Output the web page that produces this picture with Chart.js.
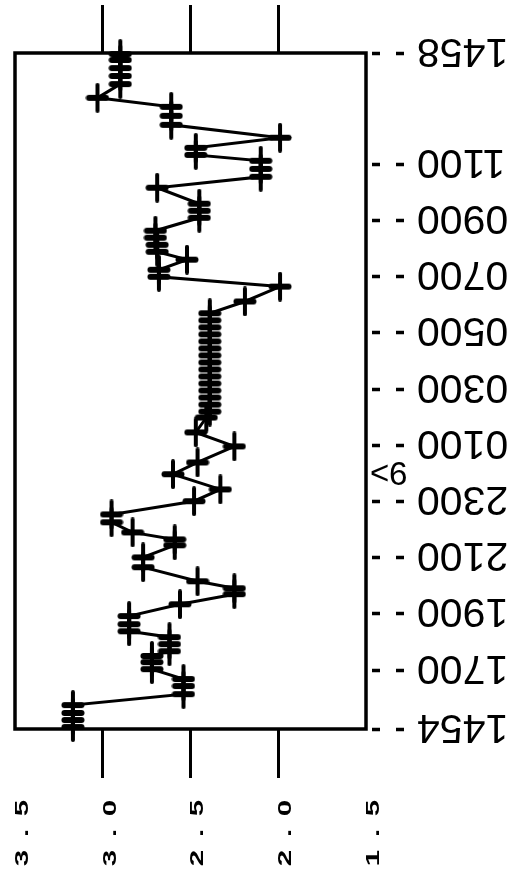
<!DOCTYPE html>
<html lang="en">
  <head>
    <meta charset="UTF-8" />
    <meta name="viewport" content="width=device-width, initial-scale=1.0" />
    <title>Readings 1454 - 1458</title>
    <script src="https://cdn.jsdelivr.net/npm/chart.js"></script>
    <style>
      html,
      body {
        margin: 0;
        padding: 0;
        background: #fff;
      }
    </style>
  </head>

  <body>
    <canvas id="myChart" width="529" height="876"></canvas>
  </body>
</html>

<script>
  // clock time of each reading, in hours from midnight of the first day (goes past 24 next day)
  var hours = [
    14.97, 15.22, 15.47, 15.75, 16.14, 16.43, 16.68, 17.03, 17.28, 17.5,
    17.67, 17.92, 18.17, 18.38, 18.63, 18.92, 19.34, 19.7, 19.91, 20.16,
    20.66, 21.01, 21.44, 21.65, 21.9, 22.26, 22.54, 23.01, 23.43, 23.97,
    24.39, 24.96, 25.46, 25.99, 26.2, 26.45, 26.7, 26.95, 27.2, 27.45,
    27.7, 27.95, 28.2, 28.45, 28.7, 28.95, 29.2, 29.45, 29.7, 30.12,
    30.65, 31.0, 31.25, 31.61, 31.89, 32.14, 32.39, 32.64, 33.1, 33.35,
    33.6, 34.17, 34.56, 34.84, 35.13, 35.34, 35.59, 35.95, 36.41, 36.73,
    37.05, 37.37, 37.86, 38.15, 38.43, 38.72, 38.93,
  ];
  var values = [
    3.17, 3.17, 3.17, 3.17, 2.54, 2.54, 2.54, 2.72, 2.72, 2.72,
    2.62, 2.62, 2.62, 2.85, 2.85, 2.85, 2.56, 2.25, 2.25, 2.46,
    2.77, 2.77, 2.59, 2.59, 2.83, 2.95, 2.95, 2.48, 2.33, 2.6,
    2.46, 2.25, 2.47, 2.41, 2.39, 2.39, 2.39, 2.39, 2.39, 2.39,
    2.39, 2.39, 2.39, 2.39, 2.39, 2.39, 2.39, 2.39, 2.39, 2.19,
    1.99, 2.68, 2.68, 2.52, 2.69, 2.69, 2.7, 2.7, 2.45, 2.45,
    2.45, 2.69, 2.1, 2.1, 2.1, 2.47, 2.47, 1.99, 2.61, 2.61,
    2.61, 3.03, 2.9, 2.9, 2.9, 2.9, 2.9,
  ];

  // value axis (drawn left to right, high to low)
  var valueTicks = [3.5, 3.0, 2.5, 2.0, 1.5];
  var valueTickLabels = ["3.5", "3.0", "2.5", "2.0", "1.5"];

  // time axis (bottom to top)
  var timeTicks = [14.9, 17, 19, 21, 23, 25, 27, 29, 31, 33, 35, 38.967];
  var timeTickLabels = [
    "1454", "1700", "1900", "2100", "2300", "0100",
    "0300", "0500", "0700", "0900", "1100", "1458",
  ];

  // day change marker at midnight
  var dayMarkHour = 24;
  var dayMarkText = "9>";

  var points = [];
  for (var i = 0; i < hours.length; i++) {
    points.push({ x: values[i], y: hours[i] });
  }

  // plus marker, taller than wide like in the scanned plot
  function makeMarker() {
    var c = document.createElement("canvas");
    c.width = 24;
    c.height = 30;
    var g = c.getContext("2d");
    g.strokeStyle = "#000";
    g.lineCap = "round";
    g.lineWidth = 6;
    g.beginPath();
    g.moveTo(3.5, 15);
    g.lineTo(20.5, 15);
    g.stroke();
    g.lineWidth = 4;
    g.beginPath();
    g.moveTo(12, 2);
    g.lineTo(12, 28);
    g.stroke();
    return c;
  }

  // hide the tick lines at the two ends of the value axis
  function valueTickColor(ctx) {
    if (!ctx.tick) return "#000";
    var v = ctx.tick.value;
    return v === 3.5 || v === 1.5 ? "rgba(0,0,0,0)" : "#000";
  }

  // frame and rotated labels
  var labelsPlugin = {
    id: "labels",
    beforeDatasetsDraw: function (chart) {
      var ctx = chart.ctx;
      var a = chart.chartArea;
      ctx.save();
      ctx.strokeStyle = "#000";
      ctx.lineWidth = 3.5;
      ctx.strokeRect(a.left, a.top, a.right - a.left, a.bottom - a.top);
      ctx.restore();
    },
    afterDraw: function (chart) {
      var ctx = chart.ctx;
      var xs = chart.scales.x;
      var ys = chart.scales.y;
      ctx.save();
      ctx.fillStyle = "#000";

      // value labels, reading bottom to top
      ctx.font = "bold 19px 'Liberation Sans'";
      ctx.textAlign = "center";
      ctx.textBaseline = "alphabetic";
      for (var i = 0; i < valueTicks.length; i++) {
        var px = xs.getPixelForValue(valueTicks[i]) + 6;
        var chars = valueTickLabels[i].split("");
        ctx.save();
        ctx.translate(px, 833);
        ctx.rotate(-Math.PI / 2);
        ctx.scale(1.55, 1);
        for (var j = 0; j < chars.length; j++) {
          ctx.fillText(chars[j], (j - 1) * 16.1, 6.8);
        }
        ctx.restore();
      }

      // time labels, upside down
      ctx.font = "41px 'Liberation Sans'";
      ctx.textAlign = "right";
      for (var k = 0; k < timeTicks.length; k++) {
        var py = ys.getPixelForValue(timeTicks[k]);
        ctx.save();
        ctx.translate(417, py);
        ctx.rotate(Math.PI);
        ctx.fillText(timeTickLabels[k], 0, 14.5);
        ctx.restore();
      }

      // midnight marker
      ctx.font = "33px 'Liberation Sans'";
      ctx.save();
      ctx.translate(370, ys.getPixelForValue(dayMarkHour));
      ctx.rotate(Math.PI);
      ctx.fillText(dayMarkText, 0, 11.8);
      ctx.restore();

      ctx.restore();
    },
  };

  var ctx = document.getElementById("myChart");
  new Chart(ctx, {
    type: "scatter",
    data: {
      datasets: [
        {
          label: "Readings",
          data: points,
          showLine: true,
          borderColor: "#000",
          borderWidth: 3,
          tension: 0,
          pointStyle: makeMarker(),
          pointRadius: 10,
          pointHoverRadius: 10,
          clip: false,
        },
      ],
    },
    options: {
      responsive: false,
      animation: false,
      devicePixelRatio: 1,
      layout: {
        padding: { left: 15, top: 0, right: 0, bottom: 0 },
      },
      plugins: {
        legend: { display: false },
        tooltip: { enabled: false },
      },
      scales: {
        x: {
          type: "linear",
          position: "bottom",
          min: 1.5,
          max: 3.5,
          reverse: true,
          ticks: { display: false, stepSize: 0.5 },
          border: { display: false },
          grid: {
            drawOnChartArea: false,
            tickLength: 49,
            tickWidth: 3,
            tickColor: valueTickColor,
          },
          afterFit: function (scale) {
            scale.height = 876 - 729;
          },
        },
        xTop: {
          axis: "x",
          type: "linear",
          position: "top",
          min: 1.5,
          max: 3.5,
          reverse: true,
          ticks: { display: false, stepSize: 0.5 },
          border: { display: false },
          grid: {
            drawOnChartArea: false,
            tickLength: 48,
            tickWidth: 3,
            tickColor: valueTickColor,
          },
          afterFit: function (scale) {
            scale.height = 53;
          },
        },
        y: {
          type: "linear",
          position: "right",
          min: 14.9,
          max: 38.967,
          ticks: { display: false },
          border: { display: false },
          afterBuildTicks: function (scale) {
            scale.ticks = timeTicks.map(function (v) {
              return { value: v };
            });
          },
          grid: {
            drawOnChartArea: false,
            tickLength: 40,
            tickWidth: 3.5,
            tickColor: "#000",
            tickBorderDash: [8, 16],
            tickBorderDashOffset: 18,
          },
          afterFit: function (scale) {
            scale.width = 529 - 366;
          },
        },
      },
    },
    plugins: [labelsPlugin],
  });
</script>
